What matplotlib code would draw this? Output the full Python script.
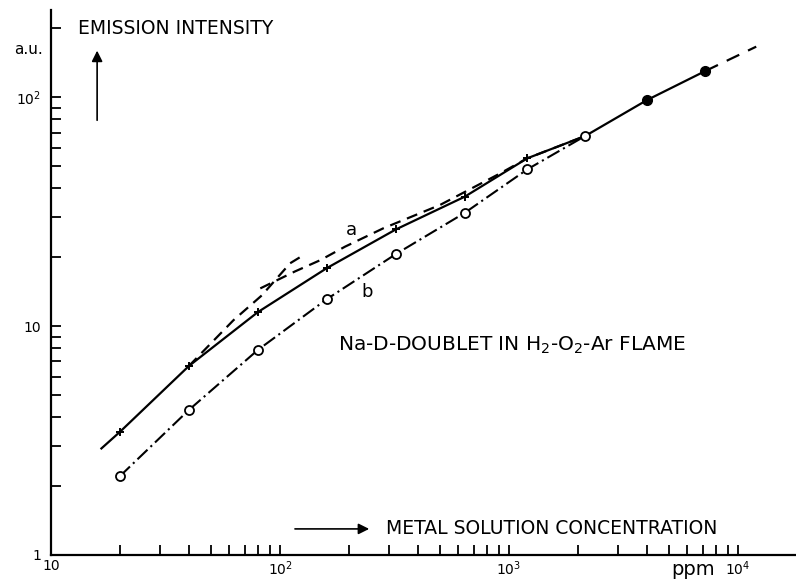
import matplotlib
matplotlib.use("Agg")
import matplotlib.pyplot as plt
from matplotlib.ticker import FixedLocator, NullFormatter

plt.rcParams['font.family'] = ['DejaVu Sans']
plt.rcParams['lines.scale_dashes'] = False
plt.rcParams['mathtext.default'] = 'regular'

# ---- data ----
conc_plus = [20, 40, 80, 160, 320, 640, 1200]
int_plus = [3.45, 6.69, 11.5, 17.9, 26.4, 36.7, 54]

solid_conc = [16.6, 20, 40, 80, 160, 320, 640, 1200, 2150, 4000, 7200]
solid_int = [2.92, 3.45, 6.69, 11.5, 17.9, 26.4, 36.7, 54, 67.6, 97, 130]

conc_circ = [20, 40, 80, 160, 320, 640, 1200, 2150]
int_circ = [2.21, 4.30, 7.86, 13.1, 20.6, 31.2, 48.3, 67.6]

conc_filled = [4000, 7200]
int_filled = [97, 130]

ext_conc = [7200, 12000]
ext_int = [130, 166]

a_conc = [82, 116, 150, 192, 282, 500, 914, 1200, 2150]
a_int = [14.6, 17.3, 19.4, 22.2, 26.7, 33.8, 46.4, 54, 67.6]

steep_conc = [40, 62.6, 83.2, 110.7, 126.5]
steep_int = [6.69, 10.6, 13.6, 18.8, 20.4]

x_major = [10, 100, 1000, 10000]
x_labels = ['10', '$10^2$', '$10^3$', '$10^4$']
y_major = [1, 10, 100]
y_labels = ['1', '10', '$10^2$']

# ---- figure ----
fig = plt.figure(figsize=(7.96, 5.79), dpi=100)
ax = fig.add_axes([51/796, 24/579, 745/796, 545/579])
ax.set_xscale('log')
ax.set_yscale('log')
ax.set_xlim(10, 17900)
ax.set_ylim(1, 240)

for s in ['top', 'right']:
    ax.spines[s].set_visible(False)
for s in ['left', 'bottom']:
    ax.spines[s].set_linewidth(1.6)

ax.xaxis.set_major_locator(FixedLocator(x_major))
ax.set_xticklabels(x_labels)
ax.yaxis.set_major_locator(FixedLocator(y_major))
ax.set_yticklabels(y_labels)
ax.xaxis.set_minor_locator(FixedLocator([m * d for d in [10, 100, 1000] for m in range(2, 10)]))
ax.yaxis.set_minor_locator(FixedLocator([m * d for d in [1, 10] for m in range(2, 10)] + [200]))
ax.xaxis.set_minor_formatter(NullFormatter())
ax.yaxis.set_minor_formatter(NullFormatter())
ax.tick_params(which='both', direction='in', length=7, width=1.3, labelsize=10)
ax.tick_params(axis='x', which='major', pad=3)
ax.tick_params(axis='y', which='major', pad=7)

# ---- curves ----
ax.plot(solid_conc, solid_int, color='black', lw=1.6)
ax.plot(conc_plus, int_plus, linestyle='none', marker='+', ms=6, mew=1.4, color='black')
ax.plot(conc_circ, int_circ, color='black', lw=1.5, dashes=(10, 3, 1.5, 3),
        marker='o', ms=6.5, mew=1.3, mfc='white', mec='black')
ax.plot(conc_filled, int_filled, linestyle='none', marker='o', ms=7, color='black')
ax.plot(ext_conc, ext_int, color='black', lw=1.6, dashes=(10, 7))
ax.plot(a_conc, a_int, color='black', lw=1.6, dashes=(8, 5))
ax.plot(steep_conc, steep_int, color='black', lw=1.6, dashes=(8, 5))

# ---- annotations ----
ax.text(204, 26.3, 'a', fontsize=13, ha='center', va='center')
ax.text(240, 14.1, 'b', fontsize=13, ha='center', va='center')
ax.text(179, 8.26, 'Na-D-DOUBLET IN H$_2$-O$_2$-Ar FLAME', fontsize=14.5, ha='left', va='center')
ax.text(13.1, 200, 'EMISSION INTENSITY', fontsize=13.5, ha='left', va='center')
ax.text(-0.011, 0.927, 'a.u.', fontsize=11, ha='right', va='center', transform=ax.transAxes)
ax.text(0.891, -0.027, 'ppm', fontsize=14, ha='right', va='center', transform=ax.transAxes)
ax.text(290, 1.30, 'METAL SOLUTION CONCENTRATION', fontsize=13.5, ha='left', va='center')

ax.annotate('', xy=(15.9, 164), xytext=(15.9, 77),
            arrowprops=dict(arrowstyle='-|>', color='black', lw=1.2, mutation_scale=16))
ax.annotate('', xy=(252, 1.30), xytext=(113, 1.30),
            arrowprops=dict(arrowstyle='-|>', color='black', lw=1.2, mutation_scale=16))

fig.savefig('out.png', dpi=100)
